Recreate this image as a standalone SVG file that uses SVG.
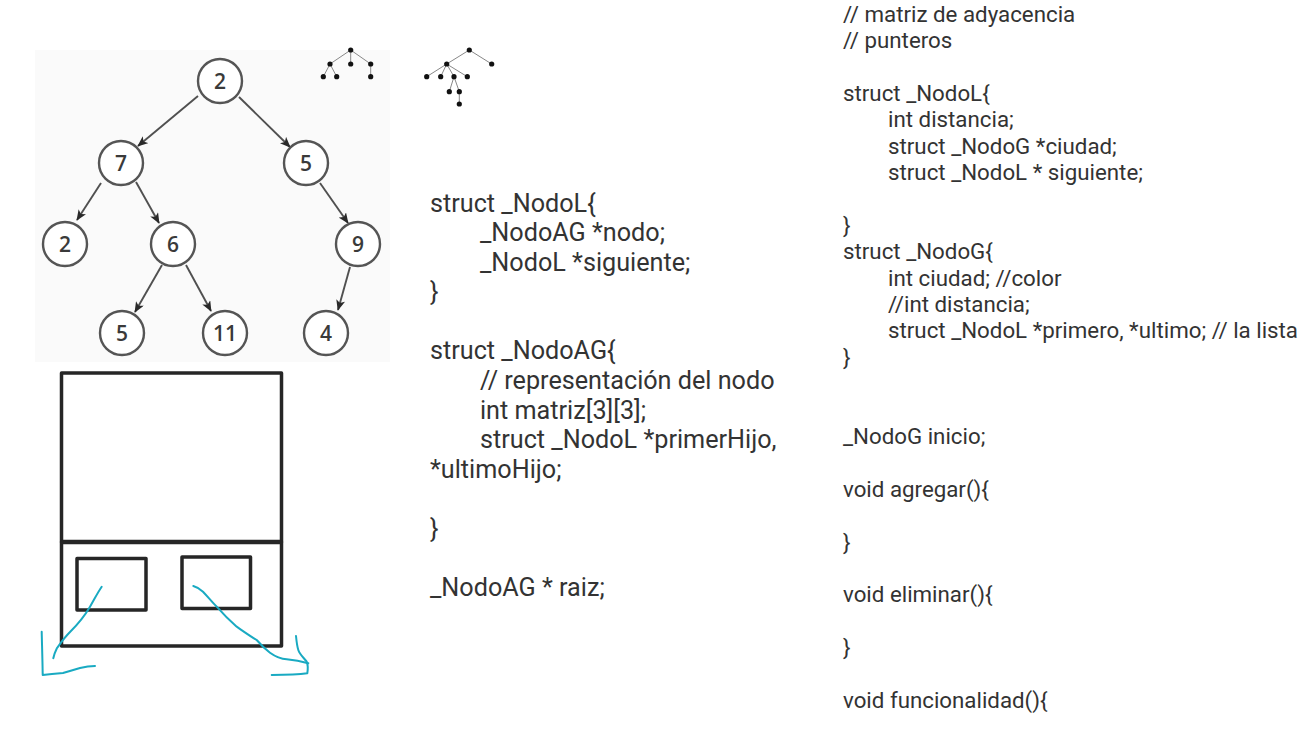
<svg xmlns="http://www.w3.org/2000/svg" width="1303" height="730" viewBox="0 0 1303 730">
<style>
.code{font-family:Roboto,"Liberation Sans",sans-serif;fill:#333333}
.l{font-size:25.2px}
.r{font-size:22.3px}
.nd{fill:#ffffff;stroke:#555555;stroke-width:2.4}
.nt{font-family:"Open Sans","Liberation Sans",sans-serif;font-size:21px;font-weight:600;fill:#3a3a3a;text-anchor:middle}
.ed{stroke:#505050;stroke-width:1.9;fill:none}
.st{stroke:#888888;stroke-width:1;fill:none}
.dot{fill:#111111}
.box{fill:none;stroke:#262626;stroke-width:3.5;stroke-linejoin:round}
.ink{fill:none;stroke:#19aac2;stroke-width:2;stroke-linecap:round;stroke-linejoin:round}
</style>
<defs>
<marker id="ah" viewBox="0 0 12 10" refX="11" refY="5" markerWidth="11" markerHeight="9" markerUnits="userSpaceOnUse" orient="auto">
<path d="M0,0 L12,5 L0,10 L3,5 z" fill="#2a2a2a"/>
</marker>
</defs>
<rect width="1303" height="730" fill="#ffffff"/>
<rect x="35" y="50" width="355" height="312" fill="#fafafa"/>

<g id="connectors">
<line class="ed" x1="198" y1="96" x2="138" y2="146" marker-end="url(#ah)"/>
<line class="ed" x1="239" y1="97" x2="290" y2="147" marker-end="url(#ah)"/>
<line class="ed" x1="101" y1="183" x2="77" y2="220" marker-end="url(#ah)"/>
<line class="ed" x1="136" y1="182" x2="159" y2="223" marker-end="url(#ah)"/>
<line class="ed" x1="320" y1="183" x2="348" y2="223" marker-end="url(#ah)"/>
<line class="ed" x1="162" y1="265" x2="135" y2="312" marker-end="url(#ah)"/>
<line class="ed" x1="186" y1="265" x2="211" y2="311" marker-end="url(#ah)"/>
<line class="ed" x1="350" y1="267" x2="338" y2="310" marker-end="url(#ah)"/>
</g>

<g id="node-root"><circle class="nd" cx="220" cy="81" r="22"/><text class="nt" x="220" y="88.5">2</text></g>
<g id="node-7"><circle class="nd" cx="121" cy="163" r="22"/><text class="nt" x="121" y="170.5">7</text></g>
<g id="node-5a"><circle class="nd" cx="306" cy="163" r="22"/><text class="nt" x="306" y="170.5">5</text></g>
<g id="node-2b"><circle class="nd" cx="65" cy="244" r="22"/><text class="nt" x="65" y="251.5">2</text></g>
<g id="node-6"><circle class="nd" cx="173" cy="244" r="22"/><text class="nt" x="173" y="251.5">6</text></g>
<g id="node-9"><circle class="nd" cx="358" cy="244" r="22"/><text class="nt" x="358" y="251.5">9</text></g>
<g id="node-5b"><circle class="nd" cx="122" cy="333" r="22"/><text class="nt" x="122" y="340.5">5</text></g>
<g id="node-11"><circle class="nd" cx="225" cy="333" r="22"/><text class="nt" x="225" y="340.5">11</text></g>
<g id="node-4"><circle class="nd" cx="326" cy="333" r="22"/><text class="nt" x="326" y="340.5">4</text></g>

<g id="small-tree-1">
<path class="st" d="M350.7,50 L330,64 M350.7,50 L350.7,64 M350.7,50 L370.7,64 M330,64 L323.3,76.7 M330,64 L336.7,76.7 M370.7,64 L370.7,76.7"/>
<circle class="dot" cx="350.7" cy="50" r="2.6"/>
<circle class="dot" cx="330" cy="64" r="2.6"/>
<circle class="dot" cx="350.7" cy="64" r="2.6"/>
<circle class="dot" cx="370.7" cy="64" r="2.6"/>
<circle class="dot" cx="323.3" cy="76.7" r="2.6"/>
<circle class="dot" cx="336.7" cy="76.7" r="2.6"/>
<circle class="dot" cx="370.7" cy="76.7" r="2.6"/>
</g>

<g id="small-tree-2">
<path class="st" d="M469.3,50 L446.7,64 M469.3,50 L491.7,64 M446.7,64 L426.7,76.7 M446.7,64 L440.7,76.7 M446.7,64 L454,76.7 M446.7,64 L467.3,76.7 M454,76.7 L449.3,91.7 M454,76.7 L459.3,91.7 M459.3,91.7 L459.3,104"/>
<circle class="dot" cx="469.3" cy="50" r="2.6"/>
<circle class="dot" cx="446.7" cy="64" r="2.6"/>
<circle class="dot" cx="491.7" cy="64" r="2.6"/>
<circle class="dot" cx="426.7" cy="76.7" r="2.6"/>
<circle class="dot" cx="440.7" cy="76.7" r="2.6"/>
<circle class="dot" cx="454" cy="76.7" r="2.6"/>
<circle class="dot" cx="467.3" cy="76.7" r="2.6"/>
<circle class="dot" cx="449.3" cy="91.7" r="2.6"/>
<circle class="dot" cx="459.3" cy="91.7" r="2.6"/>
<circle class="dot" cx="459.3" cy="104" r="2.6"/>
</g>

<g id="box-sketch">
<rect class="box" x="61.5" y="373" width="220" height="169"/>
<rect class="box" x="61.5" y="542" width="220" height="104"/>
<line x1="61.5" y1="542" x2="281.5" y2="542" stroke="#262626" stroke-width="4.5"/>
<rect class="box" x="77" y="558.5" width="69" height="51.5"/>
<rect class="box" x="182" y="557" width="68.5" height="51.5"/>
</g>

<g id="ink-strokes">
<path class="ink" d="M101.7,586.7 C98,592 95,598 90,606.7 C84,617 78,624 70,632 C64,638 60,644 57,648 C55,652 54,655 53.3,658.3"/>
<path class="ink" d="M41.7,631.7 C42,645 42.5,660 42.7,675 C50,674 56,673.5 63,673 C70,671 75,669.5 80,668 C86,666.5 90,666 95,666"/>
<path class="ink" d="M193.3,586 C197,587 200,589 203,591.7 C208,597 212,602 216.7,606.7 C223,614 229,620 236.7,626.7 C243,631 250,636 256.7,640 C261,645 265,649 270,652.7 C276,657 281,659 286.7,659.3 C294,660 300,661 308.3,663.3"/>
<path class="ink" d="M296,636 C296.5,641 297,646 298.3,650 C300,655 304,658 306.7,661.7 C308,665 308,669 307.3,673.3 C296,675 284,675 271.7,675"/>
</g>

<g id="code-left">
<text class="code l" x="430" y="211.5">struct _NodoL{</text>
<text class="code l" x="480" y="241">_NodoAG *nodo;</text>
<text class="code l" x="480" y="270.6">_NodoL *siguiente;</text>
<text class="code l" x="430" y="300.2">}</text>
<text class="code l" x="430" y="359.4">struct _NodoAG{</text>
<text class="code l" x="480" y="389">// representación del nodo</text>
<text class="code l" x="480" y="418.6">int matriz[3][3];</text>
<text class="code l" x="480" y="448.2">struct _NodoL *primerHijo,</text>
<text class="code l" x="430" y="477.8">*ultimoHijo;</text>
<text class="code l" x="430" y="537">}</text>
<text class="code l" x="430" y="596.2">_NodoAG * raiz;</text>
</g>

<g id="code-right">
<text class="code r" x="843" y="21.5">// matriz de adyacencia</text>
<text class="code r" x="843" y="47.9">// punteros</text>
<text class="code r" x="843" y="100.7">struct _NodoL{</text>
<text class="code r" x="888" y="127.1">int distancia;</text>
<text class="code r" x="888" y="153.5">struct _NodoG *ciudad;</text>
<text class="code r" x="888" y="179.9">struct _NodoL * siguiente;</text>
<text class="code r" x="843" y="232.7">}</text>
<text class="code r" x="843" y="259.1">struct _NodoG{</text>
<text class="code r" x="888" y="285.5">int ciudad; //color</text>
<text class="code r" x="888" y="311.9">//int distancia;</text>
<text class="code r" x="888" y="338.3">struct _NodoL *primero, *ultimo; // la lista</text>
<text class="code r" x="843" y="364.7">}</text>
<text class="code r" x="843" y="443.9">_NodoG inicio;</text>
<text class="code r" x="843" y="496.7">void agregar(){</text>
<text class="code r" x="843" y="549.5">}</text>
<text class="code r" x="843" y="602.3">void eliminar(){</text>
<text class="code r" x="843" y="655.1">}</text>
<text class="code r" x="843" y="707.9">void funcionalidad(){</text>
</g>
</svg>
